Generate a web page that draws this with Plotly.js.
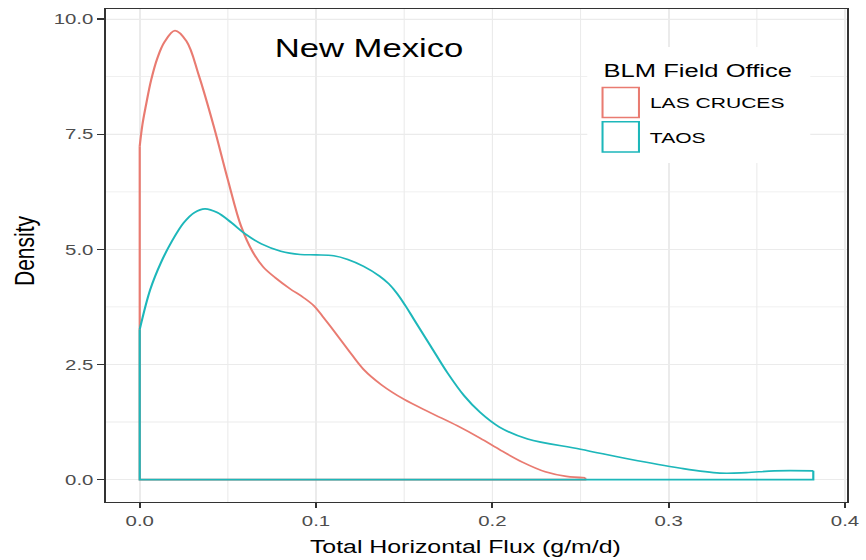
<!DOCTYPE html>
<html>
<head>
<meta charset="utf-8">
<script src="https://cdn.plot.ly/plotly-3.0.1.min.js"></script>
<style>
  html, body { margin: 0; padding: 0; background: #ffffff; overflow: hidden; }
  #plot { width: 637px; height: 560px; transform: scaleX(1.3595); transform-origin: 0 0; }
</style>
</head>
<body>
<div id="plot"></div>
<script>
// ---- data ----
const seriesNames = ["LAS CRUCES", "TAOS"];
const legendTitle = "BLM Field Office";
const chartTitle = "New Mexico";
const xAxisTitle = "Total Horizontal Flux (g/m/d)";
const yAxisTitle = "Density";
const xTickVals = [0, 0.1, 0.2, 0.3, 0.4];
const xTickText = ["0.0", "0.1", "0.2", "0.3", "0.4"];
const yTickVals = [0, 2.5, 5, 7.5, 10];
const yTickText = ["0.0", "2.5", "5.0", "7.5", "10.0"];

const lasCrucesX = [0.0, 0.0015, 0.0035, 0.0065, 0.0100, 0.0140, 0.0200, 0.0265, 0.0335, 0.0420, 0.0500, 0.0575, 0.0640, 0.0700, 0.0770, 0.0850, 0.0930, 0.0989, 0.1036, 0.1085, 0.1180, 0.1270, 0.1370, 0.1500, 0.1650, 0.1800, 0.1930, 0.2050, 0.2170, 0.2300, 0.2420, 0.2527];
const lasCrucesY = [7.24, 7.70, 8.12, 8.68, 9.15, 9.50, 9.75, 9.52, 8.78, 7.67, 6.51, 5.50, 4.95, 4.62, 4.38, 4.15, 3.95, 3.77, 3.55, 3.31, 2.83, 2.39, 2.06, 1.74, 1.45, 1.17, 0.90, 0.63, 0.38, 0.17, 0.07, 0.04];

const taosX = [0.0, 0.0060, 0.0120, 0.0180, 0.0250, 0.0310, 0.0370, 0.0440, 0.0520, 0.0600, 0.0690, 0.0800, 0.0910, 0.1000, 0.1100, 0.1180, 0.1270, 0.1360, 0.1413, 0.1460, 0.1508, 0.1555, 0.1650, 0.1745, 0.1840, 0.1930, 0.2040, 0.2200, 0.2500, 0.2780, 0.3060, 0.3290, 0.3440, 0.3600, 0.3820];
const taosY = [3.26, 4.13, 4.71, 5.16, 5.58, 5.80, 5.88, 5.80, 5.58, 5.33, 5.12, 4.96, 4.89, 4.88, 4.86, 4.78, 4.63, 4.42, 4.25, 4.04, 3.77, 3.48, 2.90, 2.32, 1.82, 1.46, 1.14, 0.88, 0.66, 0.44, 0.25, 0.14, 0.15, 0.19, 0.19];

// ---- styling ----
const colors = ["#E97B71", "#1DB7BA"];
const lineW = 1.6;

function closure(xs, ys) {
  const n = xs.length - 1;
  return { x: [xs[n], xs[n], xs[0], xs[0]], y: [ys[n], 0, 0, ys[0]] };
}

const series = [[lasCrucesX, lasCrucesY], [taosX, taosY]];
const traces = [];
series.forEach(([xs, ys], i) => {
  const c = closure(xs, ys);
  traces.push({ type: "scatter", mode: "lines", x: c.x, y: c.y, showlegend: false,
    line: { color: colors[i], width: lineW, shape: "linear" }, hoverinfo: "skip" });
  traces.push({ type: "scatter", mode: "lines", x: xs, y: ys, name: seriesNames[i], showlegend: false,
    line: { color: colors[i], width: lineW, shape: "spline", smoothing: 1.0 }, hoverinfo: "skip" });
});

// plot-area pixel helpers (pre-stretch coordinates)
const L = 78, R = 623, T = 9, B = 502;
const px = v => (v - L) / (R - L);
const py = v => (B - v) / (B - T);

const shapes = [
  { type: "rect", xref: "paper", yref: "paper", x0: px(432), x1: px(596), y0: py(163), y1: py(47),
    fillcolor: "#ffffff", line: { width: 0 }, layer: "above" },
  { type: "rect", xref: "paper", yref: "paper", x0: px(443.2), x1: px(470), y0: py(117.6), y1: py(87.4),
    fillcolor: "rgba(0,0,0,0)", line: { color: colors[0], width: 1.5 }, layer: "above" },
  { type: "rect", xref: "paper", yref: "paper", x0: px(443.2), x1: px(470), y0: py(152), y1: py(121.8),
    fillcolor: "rgba(0,0,0,0)", line: { color: colors[1], width: 1.5 }, layer: "above" }
];

const annotations = [
  { text: chartTitle, xref: "paper", yref: "paper", x: px(271.7), y: py(48), xanchor: "center", yanchor: "middle",
    showarrow: false, font: { family: "Liberation Sans, Arial", size: 25.5, color: "#000000" } },
  { text: legendTitle, xref: "paper", yref: "paper", x: px(441.5), y: py(70), xanchor: "left", yanchor: "middle",
    showarrow: false, font: { family: "Liberation Sans, Arial", size: 18.8, color: "#000000" } },
  { text: seriesNames[0], xref: "paper", yref: "paper", x: px(475.5), y: py(103), xanchor: "left", yanchor: "middle",
    showarrow: false, font: { family: "Liberation Sans, Arial", size: 15.5, color: "#000000" } },
  { text: seriesNames[1], xref: "paper", yref: "paper", x: px(475.5), y: py(138), xanchor: "left", yanchor: "middle",
    showarrow: false, font: { family: "Liberation Sans, Arial", size: 15.5, color: "#000000" } },
  { text: xAxisTitle, xref: "paper", yref: "paper", x: px(342), y: py(546), xanchor: "center", yanchor: "middle",
    showarrow: false, font: { family: "Liberation Sans, Arial", size: 18.3, color: "#000000" } },
  { text: yAxisTitle, xref: "paper", yref: "paper", x: px(17), y: py(251), xanchor: "center", yanchor: "middle",
    textangle: -90, showarrow: false, font: { family: "Liberation Sans, Arial", size: 21, color: "#000000" } }
];

const axisCommon = {
  showline: true, mirror: true, linecolor: "#333333", linewidth: 1.3,
  ticks: "outside", ticklen: 5, tickwidth: 1.3, tickcolor: "#333333",
  showgrid: true, gridcolor: "#EBEBEB", gridwidth: 1.2, zeroline: false,
  tickfont: { family: "Liberation Sans, Arial", size: 15, color: "#4D4D4D" },
  fixedrange: true
};

const layout = {
  width: 637, height: 560,
  margin: { l: L, r: 637 - R, t: T, b: 560 - B },
  paper_bgcolor: "#ffffff", plot_bgcolor: "#ffffff",
  showlegend: false,
  xaxis: Object.assign({}, axisCommon, {
    range: [-0.0191, 0.4011], tickmode: "array", tickvals: xTickVals, ticktext: xTickText,
    minor: { dtick: 0.05, tick0: 0, showgrid: true, gridcolor: "#EBEBEB", gridwidth: 0.8, ticks: "" }
  }),
  yaxis: Object.assign({}, axisCommon, {
    range: [-0.487, 10.22], tickmode: "array", tickvals: yTickVals, ticktext: yTickText,
    minor: { dtick: 1.25, tick0: 0, showgrid: true, gridcolor: "#EBEBEB", gridwidth: 0.8, ticks: "" }
  }),
  shapes: shapes,
  annotations: annotations
};

Plotly.newPlot("plot", traces, layout, { staticPlot: true, displayModeBar: false });
</script>
</body>
</html>
